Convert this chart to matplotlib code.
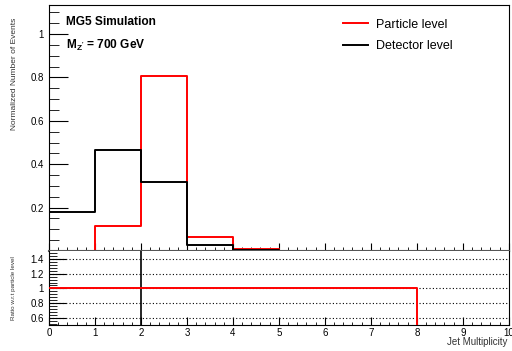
import numpy as np
import matplotlib.pyplot as plt
from matplotlib.ticker import MultipleLocator, FixedLocator

plt.rcParams['font.family'] = ['Liberation Sans', 'DejaVu Sans']
plt.rcParams['mathtext.fontset'] = 'custom'
plt.rcParams['mathtext.rm'] = 'Liberation Sans'
plt.rcParams['mathtext.bf'] = 'Liberation Sans:bold'

# jet multiplicity bins 0..10
bin_edges = [0, 1, 2, 3, 4, 5, 6, 7, 8, 9, 10]
particle = [0.0, 0.115, 0.805, 0.065, 0.008, 0.0, 0.0, 0.0, 0.0, 0.0]
detector = [0.18, 0.465, 0.317, 0.029, 0.005, 0.0, 0.0, 0.0, 0.0, 0.0]
ratio_particle = [1, 1, 1, 1, 1, 1, 1, 1, 0, 0]
ratio_detector = [4.0, 4.0, 0.39, 0.45, 0.0, 0.0, 0.0, 0.0, 0.0, 0.0]


def step_xy(edges, vals):
    x = np.repeat(edges, 2)[1:-1]
    y = np.repeat(vals, 2)
    return x, y


fig = plt.figure(figsize=(5.12, 3.51), dpi=100)
ax = fig.add_axes([0.0957, 0.2849, 0.898, 0.7009])
rax = fig.add_axes([0.0957, 0.074, 0.898, 0.2109], sharex=ax)

x, y = step_xy(bin_edges, particle)
ax.plot(x, y, color='red', lw=1.4, label='Particle level', clip_on=False, zorder=2)
x, y = step_xy(bin_edges, detector)
ax.plot(x, y, color='black', lw=1.4, label='Detector level', zorder=2)
ax.set_xlim(0, 10)
ax.set_ylim(0, 1.134)
ax.set_ylabel('Normalized Number of Events', fontsize=6, color='#333333')
ax.yaxis.set_label_coords(-0.068, 0.72)
ax.yaxis.set_major_locator(FixedLocator([0.2, 0.4, 0.6, 0.8, 1.0]))
ax.yaxis.set_minor_locator(MultipleLocator(0.05))
ax.set_yticklabels(['0.2', '0.4', '0.6', '0.8', '1'])
ax.xaxis.set_major_locator(MultipleLocator(1))
ax.xaxis.set_minor_locator(MultipleLocator(0.2))
ax.tick_params(axis='x', which='both', labelbottom=False, direction='in')
ax.tick_params(axis='x', which='major', length=6)
ax.tick_params(axis='x', which='minor', length=3)
ax.tick_params(axis='y', which='both', direction='in', labelsize=7)
ax.tick_params(axis='y', which='major', length=14)
ax.tick_params(axis='y', which='minor', length=7)
ax.spines['bottom'].set_color('#555555')
ax.spines['bottom'].set_linewidth(1.5)

ax.text(0.037, 0.955, 'MG5 Simulation', transform=ax.transAxes, fontsize=8.6,
        fontweight='bold', va='top')
ax.text(0.037, 0.865, r"$\mathbf{M_{Z'}}$ = 700 GeV", transform=ax.transAxes,
        fontsize=8.6, fontweight='bold', va='top')
ax.legend(loc='upper left', bbox_to_anchor=(0.615, 0.99), frameon=False,
          fontsize=9, handlelength=2.0, handletextpad=0.6, labelspacing=0.75)

x, y = step_xy(bin_edges, ratio_particle)
rax.plot(x, y, color='red', lw=1.4, zorder=5)
x, y = step_xy(bin_edges, ratio_detector)
rax.plot(x, y, color='black', lw=1.2)
rax.set_ylim(0.5, 1.51)
for g in [0.6, 0.8, 1.0, 1.2, 1.4]:
    rax.axhline(g, color='black', lw=0.8, ls=(0, (1, 2)), zorder=0)
rax.yaxis.set_major_locator(FixedLocator([0.6, 0.8, 1.0, 1.2, 1.4]))
rax.yaxis.set_minor_locator(MultipleLocator(0.04))
rax.set_yticklabels(['0.6', '0.8', '1', '1.2', '1.4'])
rax.tick_params(axis='both', which='both', direction='in', labelsize=7)
rax.tick_params(axis='y', which='major', length=12)
rax.tick_params(axis='y', which='minor', length=6)
rax.tick_params(axis='x', which='major', length=6, pad=2)
rax.set_xticks(range(0, 11))
rax.set_ylabel('Ratio w.r.t particle level', fontsize=4.5, color='#333333')
rax.yaxis.set_label_coords(-0.072, 0.5)
rax.spines['top'].set_visible(False)
fig.text(0.99, 0.026, 'Jet Multiplicity', fontsize=7, color='#333333',
         ha='right', va='center')

fig.savefig('out.png', dpi=100)
